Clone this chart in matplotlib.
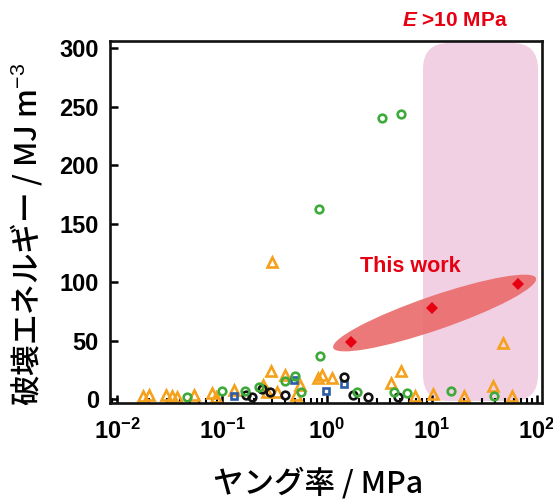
import numpy as np
import matplotlib
matplotlib.use('Agg')
import matplotlib.pyplot as plt
from matplotlib.patches import FancyBboxPatch, Ellipse
from matplotlib.ticker import FixedLocator, NullFormatter, LogLocator

plt.rcParams['font.family'] = ['Liberation Sans', 'Noto Sans CJK JP', 'DejaVu Sans']
plt.rcParams['mathtext.fontset'] = 'custom'
plt.rcParams['mathtext.rm'] = 'Liberation Sans'
plt.rcParams['mathtext.it'] = 'Liberation Sans:italic'
plt.rcParams['mathtext.bf'] = 'Liberation Sans:bold'
plt.rcParams['mathtext.bfit'] = 'Liberation Sans:italic:bold'

# ---------------- data ----------------
tri_x = [0.0177, 0.0202, 0.0293, 0.0334, 0.0373, 0.0541, 0.0803, 0.0877, 0.130, 0.246,
         0.293, 0.398, 0.268, 0.334, 0.553, 0.507, 0.821, 1.12, 0.30, 5.07,
         4.07, 6.89, 10.2, 20.2, 38.1, 57.8, 47.5, 0.90]
tri_y = [2.6, 3.4, 3.4, 2.6, 1.7, 3.4, 5.1, 1.7, 7.7, 12.0,
         23.9, 20.5, 6.0, 6.0, 12.0, 3.4, 17.9, 17.9, 117, 23.9,
         13.7, 2.6, 4.3, 2.6, 11.1, 2.6, 47.9, 20.5]

green_x = [0.0464, 0.100, 0.166, 0.225, 0.398, 0.496, 0.565, 0.86, 0.84, 3.34,
           5.07, 1.93, 4.35, 5.78, 15.2, 38.9]
green_y = [1.7, 6.8, 6.8, 10.3, 15.4, 19.7, 6.0, 36.8, 162, 240,
           244, 6.0, 6.0, 5.1, 6.8, 2.6]

black_x = [0.169, 0.193, 0.240, 0.287, 0.398, 1.45, 1.77, 2.46, 4.75]
black_y = [3.4, 1.7, 8.5, 6.0, 3.4, 18.8, 3.4, 1.7, 1.7]

blue_x = [0.130, 0.485, 0.98, 1.45]
blue_y = [2.6, 16.2, 6.8, 12.8]

work_x = [1.7, 10.0, 66.0]
work_y = [49.0, 78.0, 98.0]

xtick_vals = [1e-2, 1e-1, 1e0, 1e1, 1e2]
xtick_exps = ['-2', '-1', '0', '1', '2']
ytick_vals = [0, 50, 100, 150, 200, 250, 300]

x_label = 'ヤング率 / MPa'
y_label = '破壊エネルギー / MJ m$^{-3}$'
work_label = 'This work'
region_label = r'$\mathbfit{E}$ >10 MPa'

# ---------------- figure ----------------
W, H, DPI = 553, 500, 100
fig = plt.figure(figsize=(W / DPI, H / DPI), dpi=DPI)
ax_l, ax_r, ax_t, ax_b = 110, 542, 41, 403
ax = fig.add_axes([ax_l / W, 1 - ax_b / H, (ax_r - ax_l) / W, (ax_b - ax_t) / H])

ax.set_xscale('log')
ax.set_xlim(10 ** -2.067, 10 ** 2.048)
ax.set_ylim(-3.4, 306)

RED = '#E60012'
ORANGE = '#F5A11C'
GREEN = '#3DAA3A'
BLUE = '#2A5CAA'
BLACK = '#111111'

# pink highlight region (axes coords, rounded)
aw, ah = ax_r - ax_l, ax_b - ax_t
x0 = (423 - ax_l) / aw
x1 = (538 - ax_l) / aw
y0 = (ax_b - 401) / ah
y1 = (ax_b - 43) / ah
rad = 26 / aw
pink = FancyBboxPatch((x0, y0), x1 - x0, y1 - y0,
                      boxstyle=f'round,pad=0,rounding_size={rad}',
                      mutation_aspect=aw / ah, transform=ax.transAxes,
                      facecolor='#F0D0E2', edgecolor='none', zorder=0)
ax.add_patch(pink)

mk = dict(linestyle='none', markerfacecolor='none', markeredgewidth=1.9, zorder=2)
ax.plot(tri_x, tri_y, marker='^', markersize=6.5, markeredgecolor=ORANGE, **mk)
ax.plot(blue_x, blue_y, marker='s', markersize=5, markeredgecolor=BLUE, **mk)
ax.plot(black_x, black_y, marker='o', markersize=5.5, markeredgecolor=BLACK, **mk)
ax.plot(green_x, green_y, marker='o', markersize=5.5, markeredgecolor=GREEN, **mk)

# ellipse around "this work" points (in pixel space)
p0 = ax.transData.transform((work_x[0], work_y[0]))
p1 = ax.transData.transform((work_x[-1], work_y[-1]))
c = (p0 + p1) / 2
d = p1 - p0
length = np.hypot(*d) + 38
ang = np.degrees(np.arctan2(d[1], d[0]))
ell = Ellipse((c[0] / DPI, c[1] / DPI), length / DPI, 34 / DPI, angle=ang,
              transform=fig.dpi_scale_trans, facecolor='#EA6A6A', alpha=0.9,
              edgecolor='none', zorder=3)
ax.add_patch(ell)

ax.plot(work_x, work_y, linestyle='none', marker='D', markersize=6.2,
        color=RED, markeredgewidth=0, zorder=4)

ax.text(6.2, 113, work_label, color=RED, fontsize=15.5, fontweight='bold',
        ha='center', va='center', zorder=5)
fig.text(508 / W, 1 - 20 / H, region_label, color=RED, fontsize=15,
         fontweight='bold', ha='right', va='center')

# ticks
ax.xaxis.set_major_locator(FixedLocator(xtick_vals))
ax.set_xticklabels([r'$\mathbf{10^{%s}}$' % e for e in xtick_exps])
ax.xaxis.set_minor_locator(LogLocator(base=10, subs=np.arange(2, 10), numticks=20))
ax.xaxis.set_minor_formatter(NullFormatter())
ax.set_yticks(ytick_vals)
ax.set_yticklabels([str(v) for v in ytick_vals])
for lab in ax.get_yticklabels():
    lab.set_fontweight('bold')

ax.tick_params(axis='both', which='major', direction='in', length=6, width=1.8,
               labelsize=17)
ax.tick_params(axis='x', which='major', pad=11)
ax.tick_params(axis='y', which='major', pad=8)
ax.tick_params(axis='x', which='minor', direction='in', length=3.5, width=1.5)
for s in ax.spines.values():
    s.set_linewidth(1.9)
    s.set_color('#111111')

cjk = ['Noto Sans CJK JP', 'Liberation Sans']
ax.set_xlabel(x_label, family=cjk, fontsize=22, fontweight='medium')
ax.set_ylabel(y_label, family=cjk, fontsize=22, fontweight='medium')
ax.xaxis.set_label_coords((318 - ax_l) / aw, -(484 - ax_b) / ah)
ax.yaxis.set_label_coords(-(ax_l - 27) / aw, (ax_b - 234) / ah)
ax.xaxis.label.set_va('center')
ax.yaxis.label.set_va('center')

fig.savefig('out.png', dpi=DPI)
